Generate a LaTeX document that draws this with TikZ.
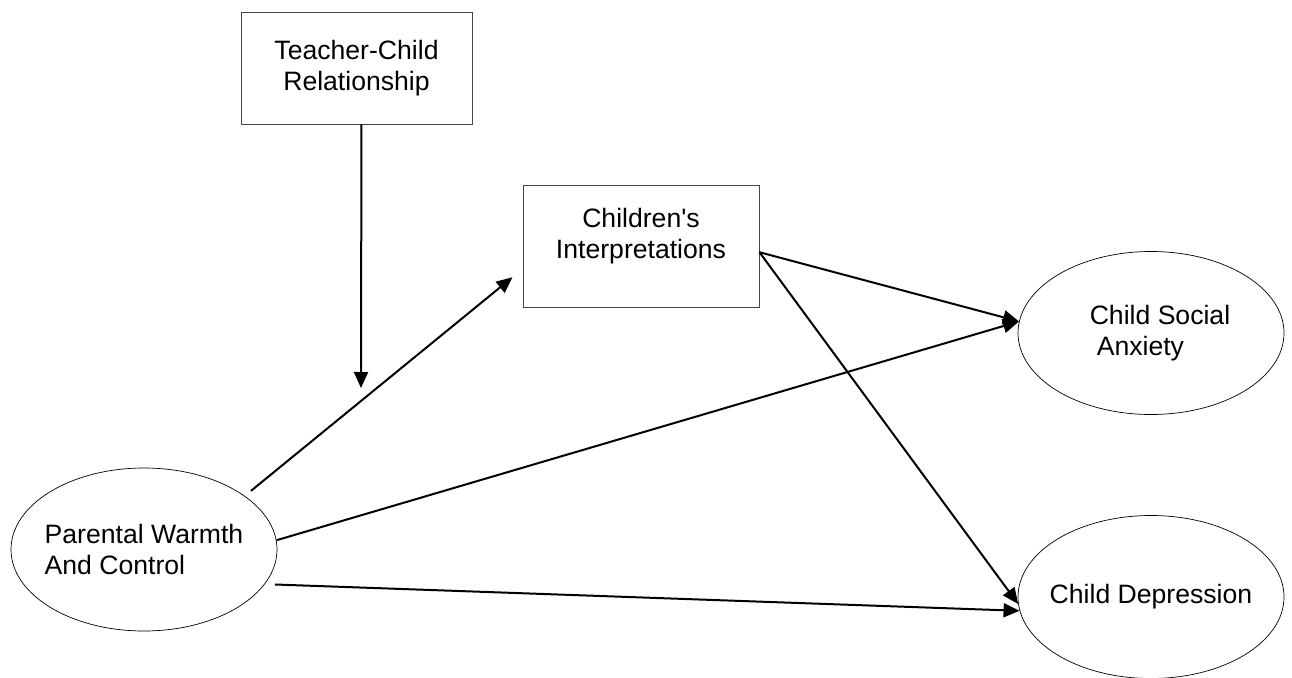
\documentclass[tikz,border=0pt]{standalone}
\usepackage{fontspec}
\setmainfont{Liberation Sans}
\usetikzlibrary{
    positioning,
    arrows.meta,
    shapes.geometric,
    calc
}
\definecolor{BoxGray}{RGB}{70,70,70}

\begin{document}
\begin{tikzpicture}[
            x=1pt, y=-1pt,
            font=\fontsize{26.6}{31}\selectfont,
            box/.style={draw=BoxGray, line width=0.9pt, rectangle, align=center, inner sep=0pt},
            oval/.style={draw, line width=0.7pt, ellipse, inner sep=-30pt,
                         minimum width=266pt, minimum height=163pt},
            link/.style={line width=2pt, -{Triangle[length=16pt,width=14pt]}},
        ]
          \useasboundingbox (0,0) rectangle (1292,677);

          % Boxes
          \node[box, minimum width=231pt, minimum height=112pt] (tcr) at (356.5,68) {Teacher-Child\\Relationship};
          \node[box, minimum width=236pt, minimum height=122pt, text depth=25pt] (ci) at (641,246) {Children\textquotesingle s\\Interpretations};

          % Ovals
          \node[oval, align=left] (pw) at (144,549.5) {Parental Warmth\\And Control};
          \node[oval, align=left] (csa) at (1151,333) {\hspace*{18pt}Child Social\\\hspace*{25pt}Anxiety};
          \node[oval] (cd) at (1151,597) {Child Depression};

          % Moderator arrow
          \coordinate (modtip) at (361,388);
          \draw[link] (tcr.-85.4) -- (modtip);

          % Paths
          \draw[link, shorten <=8pt, shorten >=13pt] (pw.28) -- (ci.191);
          \draw[link] (pw.4) -- (csa.175);
          \draw[link] (ci.-3) -- (csa.175);
          \draw[link] (ci.-3) -- (cd.183);
          \draw[link, shorten <=10pt] (pw.-16.5) -- (cd.186);
        \end{tikzpicture}
\end{document}
